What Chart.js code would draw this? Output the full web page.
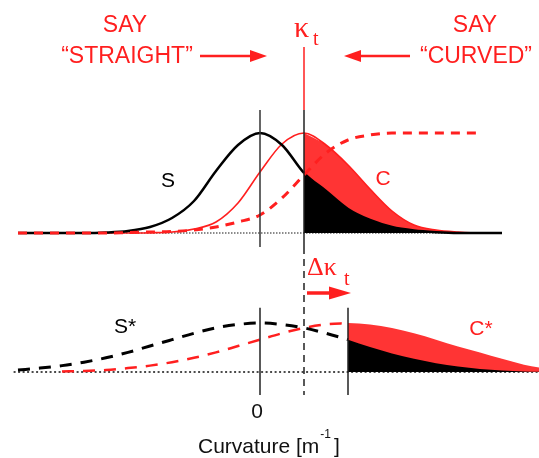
<!DOCTYPE html>
<html><head><meta charset="utf-8">
<script src="https://cdn.jsdelivr.net/npm/chart.js@4/dist/chart.umd.min.js"></script>
<style>html,body{margin:0;padding:0;background:#fff}#wrap{width:539px;height:458px;position:relative}</style>
</head><body><div id="wrap"><canvas id="c" width="539" height="458"></canvas></div>
<script>
// ---- data (curvature in units where the criterion kappa_t = 1) ----
const curvature        = [-6,-5.5,-5,-4.5,-4,-3.5,-3,-2.5,-2,-1.5,-1,-0.5,0,0.5,1,1.5,2,2.5,3,3.5,4,4.5,5,5.5,6,6.5];
const straightDist     = [null,0,0,0,0,0.005,0.02,0.06,0.15,0.32,0.62,0.88,1,0.88,0.60,0.42,0.24,0.13,0.06,0.025,0.008,0,0,0,null,null];
const curvedDist       = [null,0,0,0,0,0,0,0.003,0.01,0.04,0.11,0.30,0.61,0.89,1,0.88,0.68,0.44,0.22,0.08,0.03,0.01,0,0,null,null];
const sayCurvedProb    = [null,0,0,0,0,0,0.005,0.01,0.015,0.03,0.06,0.11,0.18,0.35,0.58,0.80,0.93,0.98,1,1,1,1,1,null,null,null];
const straightDistStar = [null,0.04,0.08,0.13,0.20,0.29,0.40,0.53,0.66,0.79,0.90,0.97,1,0.97,0.90,0.79,0.66,0.51,0.38,0.27,0.18,0.11,0.06,0.03,0.01,0];
const curvedDistStar   = [null,null,null,0.01,0.02,0.04,0.08,0.13,0.20,0.29,0.40,0.53,0.66,0.79,0.90,0.97,1,0.97,0.90,0.79,0.66,0.52,0.40,0.27,0.15,0.07];
const criterion = 1;        // kappa_t
const criterionShift = 1;   // delta kappa_t
const tickLabels = ['0'];
const tickValues = [0];

const RED = '#ff1f1f', REDFILL = '#ff3434';

function pts(arr, lo = -Infinity, hi = Infinity) {
  return curvature.map((x, i) => ({x, y: arr[i]}))
    .filter(p => p.y !== null && p.x >= lo && p.x <= hi);
}
const crit2 = criterion + criterionShift;

function arrow(ctx, x1, x2, y, lw, headLen, headW, color) {
  const dir = Math.sign(x2 - x1);
  ctx.save();
  ctx.strokeStyle = color; ctx.fillStyle = color; ctx.lineWidth = lw; ctx.setLineDash([]);
  ctx.beginPath(); ctx.moveTo(x1, y); ctx.lineTo(x2 - dir * headLen * 0.8, y); ctx.stroke();
  ctx.beginPath(); ctx.moveTo(x2, y); ctx.lineTo(x2 - dir * headLen, y - headW);
  ctx.lineTo(x2 - dir * headLen, y + headW); ctx.closePath(); ctx.fill();
  ctx.restore();
}
function seg(ctx, x1, y1, x2, y2, color, lw, dash) {
  ctx.save(); ctx.strokeStyle = color; ctx.lineWidth = lw; ctx.setLineDash(dash || []);
  ctx.beginPath(); ctx.moveTo(x1, y1); ctx.lineTo(x2, y2); ctx.stroke(); ctx.restore();
}

const deco = {
  id: 'deco',
  beforeDatasetsDraw(chart) {
    const {ctx, scales: {x, yTop, yBot}} = chart;
    seg(ctx, x.getPixelForValue(-5.5), yTop.getPixelForValue(0), x.getPixelForValue(5.5), yTop.getPixelForValue(0), '#666', 1.5, [1.5, 1.5]);
    seg(ctx, x.getPixelForValue(-5.6), yBot.getPixelForValue(0), chart.chartArea.right, yBot.getPixelForValue(0), '#111', 1.5, [2, 2.5]);
  },
  afterDatasetsDraw(chart) {
    const {ctx, scales: {x, yTop, yBot}} = chart;
    const x0 = x.getPixelForValue(0), xk = x.getPixelForValue(criterion), xk2 = x.getPixelForValue(crit2);
    // top panel verticals
    seg(ctx, x0, yTop.getPixelForValue(1.23), x0, yTop.getPixelForValue(-0.14), '#333', 1.5);
    seg(ctx, xk, yTop.getPixelForValue(1.86), xk, yTop.getPixelForValue(1.23), RED, 1.5);
    seg(ctx, xk, yTop.getPixelForValue(1.23), xk, yTop.getPixelForValue(-0.14), '#222', 1.5);
    // bottom panel verticals
    seg(ctx, xk, yBot.getPixelForValue(2.55), xk, yBot.getPixelForValue(-0.47), '#222', 1.5, [7, 5]);
    seg(ctx, x0, yBot.getPixelForValue(1.31), x0, yBot.getPixelForValue(-0.47), '#222', 1.5);
    seg(ctx, xk2, yBot.getPixelForValue(1.31), xk2, yBot.getPixelForValue(-0.47), '#222', 1.5);

    // arrows
    arrow(ctx, 200, 267, 56, 2.5, 17, 6, RED);
    arrow(ctx, 410, 344, 56, 2.5, 17, 6, RED);
    arrow(ctx, xk + 3, xk2 + 3, 293, 3.5, 22, 6.5, RED);

    ctx.save();
    const sans = '"Liberation Sans", Arial, sans-serif';
    const serif = '"Liberation Serif", "Times New Roman", serif';
    ctx.textBaseline = 'alphabetic';
    ctx.fillStyle = RED; ctx.textAlign = 'center';
    ctx.font = '23px ' + sans;
    ctx.fillText('SAY', 125, 32);
    ctx.fillText('\u201CSTRAIGHT\u201D', 127, 63);
    ctx.fillText('SAY', 475, 32);
    ctx.fillText('\u201CCURVED\u201D', 476, 63);
    // kappa_t
    ctx.textAlign = 'left';
    ctx.font = '30px ' + serif;
    ctx.fillText('\u03BA', xk - 10, 37);
    ctx.font = '20px ' + serif;
    ctx.fillText('t', xk + 9, 45);
    // delta kappa_t
    ctx.font = '26px ' + serif;
    ctx.fillText('\u0394\u03BA', xk + 3, 275);
    ctx.font = '20px ' + serif;
    ctx.fillText('t', xk + 40, 285);
    // curve labels
    ctx.textAlign = 'center';
    ctx.font = '21px ' + sans;
    ctx.fillStyle = '#000';
    ctx.fillText('S', 168, 187);
    ctx.fillText('S*', 125, 333);
    ctx.fillStyle = RED;
    ctx.fillText('C', 383, 185);
    ctx.fillText('C*', 481, 335);
    // tick label
    ctx.fillStyle = '#111';
    tickValues.forEach((v, i) => ctx.fillText(tickLabels[i], x.getPixelForValue(v) - 3, 418));
    // axis title
    ctx.textAlign = 'left';
    let tx = 198;
    ctx.font = '21px ' + sans;
    ctx.fillText('Curvature [m', tx, 453);
    tx += ctx.measureText('Curvature [m').width + 1;
    ctx.font = '12px ' + sans;
    ctx.fillText('-1', tx, 438);
    tx += ctx.measureText('-1').width + 3;
    ctx.font = '21px ' + sans;
    ctx.fillText(']', tx, 453);
    ctx.restore();
  }
};

const common = {pointRadius: 0, cubicInterpolationMode: 'monotone', spanGaps: false};
new Chart(document.getElementById('c'), {
  type: 'line',
  data: {
    datasets: [
      // top panel
      {...common, data: pts(curvedDist, criterion), yAxisID: 'yTop', fill: 'origin', backgroundColor: REDFILL, borderColor: 'rgba(0,0,0,0)', borderWidth: 0, order: 10},
      {...common, data: pts(straightDist, criterion), yAxisID: 'yTop', fill: 'origin', backgroundColor: '#000', borderColor: 'rgba(0,0,0,0)', borderWidth: 0, order: 9},
      {...common, data: pts(curvedDist), yAxisID: 'yTop', fill: false, borderColor: RED, borderWidth: 1.6, order: 3},
      {...common, data: pts(straightDist), yAxisID: 'yTop', fill: false, borderColor: '#000', borderWidth: 2.5, order: 2},
      {...common, data: pts(sayCurvedProb), yAxisID: 'yTop', fill: false, borderColor: RED, borderWidth: 3, borderDash: [9, 7], order: 1},
      // bottom panel
      {...common, data: pts(curvedDistStar, crit2), yAxisID: 'yBot', fill: 'origin', backgroundColor: REDFILL, borderColor: 'rgba(0,0,0,0)', borderWidth: 0, order: 10},
      {...common, data: pts(straightDistStar, crit2), yAxisID: 'yBot', fill: 'origin', backgroundColor: '#000', borderColor: 'rgba(0,0,0,0)', borderWidth: 0, order: 9},
      {...common, data: pts(curvedDistStar, -Infinity, crit2), yAxisID: 'yBot', fill: false, borderColor: RED, borderWidth: 2.5, borderDash: [12, 9], order: 3},
      {...common, data: pts(straightDistStar, -Infinity, crit2), yAxisID: 'yBot', fill: false, borderColor: '#000', borderWidth: 3, borderDash: [12, 9], order: 2}
    ]
  },
  options: {
    responsive: false, animation: false, events: [],
    layout: {padding: 0},
    plugins: {legend: {display: false}, tooltip: {enabled: false}, title: {display: false}},
    scales: {
      x: {type: 'linear', display: false, min: -260 / 44, max: 279 / 44},
      yTop: {type: 'linear', display: false, min: -2.25, max: 2.33},
      yBot: {type: 'linear', display: false, min: -86 / 49, max: 372 / 49}
    }
  },
  plugins: [deco]
});
</script>
</body></html>
